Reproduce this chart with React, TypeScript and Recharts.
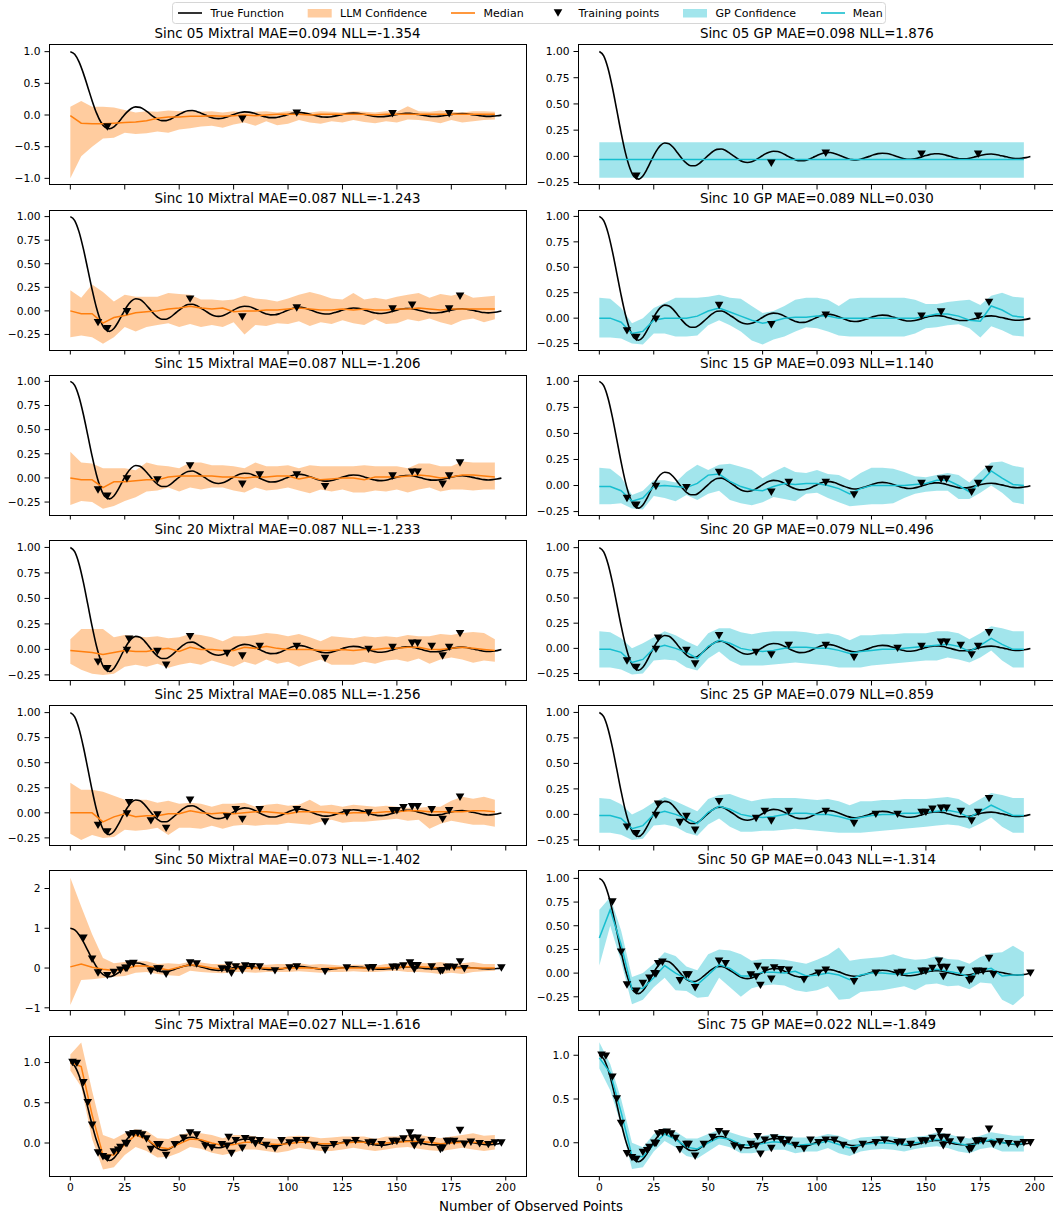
import React from "react";
import { ComposedChart, Area, Line, Scatter, XAxis, YAxis } from "recharts";

const FONT = "'DejaVu Sans', sans-serif";
const ORANGE = "#ff7f0e";
const CYAN = "#17becf";

const X_TICKS = [0, 25, 50, 75, 100, 125, 150, 175, 200];
const X_DOMAIN = [-9.8, 209.3];

// true sinc curve, sampled every 2 observed points
const TRUE_X = Array.from({ length: 100 }, (_, i) => i * 2);
const TRUE_Y = [
  1.0, 0.958, 0.838, 0.657, 0.443, 0.226, 0.033, -0.111, -0.195, -0.217,
  -0.187, -0.118, -0.033, 0.046, 0.103, 0.128, 0.12, 0.084, 0.032, -0.022,
  -0.065, -0.089, -0.089, -0.066, -0.029, 0.009, 0.044, 0.067, 0.071, 0.056,
  0.028, 0.0, -0.03, -0.051, -0.058, -0.051, -0.031, -0.005, 0.021, 0.04,
  0.049, 0.046, 0.031, 0.009, -0.014, -0.032, -0.042, -0.041, -0.03, -0.012,
  0.008, 0.026, 0.036, 0.037, 0.028, 0.013, -0.004, -0.02, -0.031, -0.033,
  -0.027, -0.014, 0.0, 0.015, 0.026, 0.03, 0.027, 0.017, 0.003, -0.011,
  -0.022, -0.028, -0.026, -0.018, -0.005, 0.008, 0.019, 0.025, 0.025, 0.018,
  0.007, -0.005, -0.016, -0.023, -0.023, -0.018, -0.008, 0.003, 0.013, 0.02,
  0.022, 0.018, 0.009, 0.0, -0.01, -0.018, -0.021, -0.018, -0.012, -0.002,
];

// x positions of the confidence bands / medians
const BAND_X = [
  0, 5, 10, 15, 20, 25, 30, 35, 40, 45, 50, 55, 60, 65, 70, 75, 80, 85, 90, 95,
  100, 105, 110, 115, 120, 125, 130, 135, 140, 145, 150, 155, 160, 165, 170, 175, 180, 185, 190, 195,
];

// Mixtral bands
const L05_HI = [0.13,0.22,0.13,0.13,0.12,0.08,0.04,0.06,0.05,0.07,0.06,0.07,0.05,0.06,0.04,0.06,0.04,0.05,0.06,0.04,0.06,0.05,0.04,0.06,0.05,0.04,0.06,0.05,0.04,0.06,0.05,0.14,0.06,0.05,0.07,0.05,0.04,0.06,0.06,0.05];
const L05_LO = [-1.0,-0.65,-0.5,-0.37,-0.36,-0.28,-0.3,-0.29,-0.26,-0.28,-0.23,-0.21,-0.18,-0.17,-0.2,-0.15,-0.12,-0.17,-0.1,-0.16,-0.14,-0.08,-0.12,-0.14,-0.1,-0.12,-0.08,-0.11,-0.13,-0.1,-0.12,-0.07,-0.08,-0.1,-0.13,-0.08,-0.12,-0.1,-0.08,-0.07];
const L05_MED = [-0.01,-0.13,-0.14,-0.14,-0.13,-0.12,-0.11,-0.09,-0.05,-0.03,-0.03,-0.02,-0.02,-0.01,-0.02,-0.01,0.0,-0.01,0.0,0.01,0.01,0.01,0.0,0.01,0.01,0.01,0.01,0.01,0.0,0.01,0.01,0.01,0.01,0.01,0.01,0.01,0.01,0.01,0.01,0.01];

const L10_HI = [0.22,0.14,0.28,0.2,0.1,0.17,0.15,0.15,0.15,0.19,0.18,0.17,0.12,0.12,0.11,0.12,0.16,0.13,0.12,0.1,0.13,0.17,0.2,0.17,0.13,0.12,0.19,0.12,0.14,0.12,0.15,0.17,0.19,0.14,0.18,0.16,0.19,0.14,0.15,0.16];
const L10_LO = [-0.28,-0.26,-0.28,-0.35,-0.28,-0.17,-0.22,-0.17,-0.15,-0.13,-0.17,-0.14,-0.17,-0.15,-0.17,-0.12,-0.25,-0.15,-0.16,-0.13,-0.14,-0.11,-0.16,-0.12,-0.14,-0.1,-0.13,-0.15,-0.09,-0.14,-0.13,-0.09,-0.11,-0.08,-0.12,-0.15,-0.1,-0.08,-0.12,-0.09];
const L10_MED = [0.0,-0.03,-0.03,-0.13,-0.07,-0.05,-0.02,-0.01,0.0,0.02,0.03,0.05,0.03,0.02,0.03,-0.01,0.0,0.0,0.01,0.01,0.02,0.03,0.02,0.01,0.01,0.02,0.01,0.02,0.01,0.01,0.02,0.02,0.03,0.02,0.01,0.02,0.02,0.02,0.02,0.02];

const L15_HI = [0.27,0.16,0.15,0.1,0.1,0.1,0.08,0.16,0.13,0.12,0.1,0.16,0.16,0.13,0.13,0.12,0.1,0.16,0.12,0.12,0.13,0.1,0.13,0.12,0.12,0.12,0.12,0.13,0.12,0.12,0.12,0.1,0.15,0.15,0.12,0.12,0.17,0.16,0.16,0.16];
const L15_LO = [-0.28,-0.24,-0.25,-0.32,-0.29,-0.24,-0.2,-0.14,-0.13,-0.1,-0.14,-0.1,-0.12,-0.1,-0.1,-0.13,-0.15,-0.1,-0.13,-0.12,-0.1,-0.13,-0.16,-0.12,-0.14,-0.12,-0.15,-0.15,-0.13,-0.14,-0.12,-0.15,-0.12,-0.1,-0.14,-0.12,-0.12,-0.13,-0.12,-0.12];
const L15_MED = [0.0,-0.02,-0.02,-0.1,-0.04,-0.04,-0.03,-0.02,-0.02,0.01,0.02,0.02,0.02,0.02,0.01,0.01,0.0,0.01,0.01,0.02,0.02,-0.01,0.01,-0.02,-0.01,0.0,0.0,-0.02,0.01,0.01,0.01,0.02,0.03,0.02,0.0,0.01,0.03,0.03,0.02,0.01];

const L20_HI = [0.1,0.2,0.2,0.2,0.12,0.14,0.13,0.12,0.13,0.11,0.12,0.15,0.14,0.12,0.08,0.13,0.13,0.14,0.16,0.15,0.13,0.15,0.12,0.08,0.13,0.12,0.11,0.13,0.12,0.13,0.12,0.14,0.13,0.13,0.15,0.14,0.16,0.17,0.16,0.1];
const L20_LO = [-0.14,-0.2,-0.24,-0.25,-0.24,-0.17,-0.15,-0.17,-0.14,-0.18,-0.15,-0.13,-0.15,-0.11,-0.14,-0.17,-0.12,-0.15,-0.1,-0.14,-0.12,-0.17,-0.13,-0.1,-0.15,-0.15,-0.15,-0.12,-0.14,-0.11,-0.1,-0.12,-0.09,-0.14,-0.1,-0.08,-0.1,-0.13,-0.11,-0.12];
const L20_MED = [-0.01,-0.02,-0.03,-0.05,-0.03,-0.01,-0.02,-0.02,0.0,0.01,-0.02,0.02,0.0,0.0,-0.01,-0.01,0.02,0.01,0.03,0.01,0.0,0.0,0.0,-0.01,-0.01,0.0,-0.01,0.0,0.0,0.01,0.01,0.02,0.02,0.0,0.0,0.01,0.02,0.01,0.0,-0.01];

const L25_HI = [0.3,0.23,0.23,0.21,0.17,0.13,0.13,0.13,0.1,0.12,0.09,0.1,0.09,0.06,0.09,0.09,0.1,0.06,0.08,0.09,0.07,0.08,0.13,0.07,0.08,0.06,0.08,0.07,0.06,0.07,0.06,0.05,0.05,0.06,0.06,0.12,0.16,0.14,0.16,0.13];
const L25_LO = [-0.21,-0.27,-0.22,-0.25,-0.24,-0.17,-0.18,-0.17,-0.15,-0.22,-0.15,-0.15,-0.16,-0.13,-0.16,-0.13,-0.12,-0.13,-0.12,-0.12,-0.1,-0.11,-0.12,-0.09,-0.07,-0.1,-0.09,-0.09,-0.08,-0.07,-0.06,-0.08,-0.07,-0.16,-0.11,-0.08,-0.1,-0.12,-0.12,-0.14];
const L25_MED = [0.0,0.0,0.0,-0.09,-0.04,-0.01,-0.04,-0.03,-0.03,-0.01,-0.01,0.02,0.0,-0.01,0.0,-0.01,0.0,0.01,0.01,0.0,-0.01,0.01,0.01,0.01,0.0,-0.01,0.0,0.0,0.0,0.01,0.01,0.02,0.02,0.01,0.01,0.01,0.01,0.02,0.02,0.01];

const L50_HI = [2.27,1.55,0.85,0.25,0.12,0.15,0.17,0.17,0.1,0.12,0.1,0.16,0.14,0.1,0.1,0.12,0.12,0.1,0.08,0.1,0.1,0.12,0.08,0.1,0.08,0.06,0.08,0.08,0.06,0.1,0.1,0.16,0.13,0.12,0.15,0.1,0.12,0.15,0.1,0.1];
const L50_LO = [-0.93,-0.3,-0.28,-0.25,-0.22,-0.2,-0.12,-0.1,-0.15,-0.18,-0.2,-0.07,-0.1,-0.12,-0.13,-0.1,-0.1,-0.12,-0.1,-0.1,-0.1,-0.08,-0.1,-0.12,-0.1,-0.1,-0.08,-0.1,-0.1,-0.08,-0.07,-0.1,-0.1,-0.12,-0.15,-0.12,-0.15,-0.1,-0.08,-0.07];
const L50_MED = [0.03,0.1,0.02,-0.03,-0.06,-0.03,0.05,0.05,0.0,-0.05,0.02,0.08,0.05,0.0,-0.03,-0.02,0.0,0.0,0.0,-0.02,0.0,0.01,0.0,-0.02,0.0,0.0,0.0,0.0,0.0,0.01,0.02,0.03,0.03,0.02,0.0,0.0,0.0,0.0,0.0,0.0];

const L75_HI = [1.1,1.25,0.65,0.1,0.05,0.12,0.17,0.15,0.06,0.05,0.1,0.13,0.12,0.1,0.06,0.1,0.1,0.08,0.06,0.05,0.08,0.09,0.08,0.06,0.07,0.08,0.08,0.08,0.05,0.08,0.08,0.1,0.1,0.08,0.06,0.08,0.1,0.12,0.09,0.1];
const L75_LO = [0.9,0.7,0.05,-0.33,-0.3,-0.15,-0.05,-0.1,-0.18,-0.17,-0.12,-0.05,-0.07,-0.12,-0.15,-0.12,-0.08,-0.08,-0.1,-0.12,-0.1,-0.06,-0.08,-0.1,-0.1,-0.08,-0.06,-0.08,-0.1,-0.08,-0.06,-0.05,-0.07,-0.09,-0.1,-0.08,-0.06,-0.08,-0.1,-0.08];
const L75_MED = [1.0,0.95,0.35,-0.15,-0.15,-0.02,0.1,0.05,-0.05,-0.07,-0.01,0.05,0.04,0.0,-0.03,-0.02,0.01,0.01,-0.01,-0.02,-0.01,0.01,0.01,-0.01,-0.01,0.0,0.01,0.01,-0.01,0.0,0.01,0.02,0.02,0.01,-0.01,0.0,0.01,0.01,0.0,0.0];

// GP bands
const G05_X = [0, 195];
const G05_HI = [0.135, 0.135];
const G05_LO = [-0.205, -0.205];
const G05_MEAN = [-0.03, -0.03];

const G10_HI = [0.2,0.19,0.1,-0.05,0.0,0.1,0.15,0.2,0.2,0.2,0.21,0.23,0.2,0.19,0.12,0.05,0.07,0.12,0.18,0.2,0.2,0.18,0.12,0.19,0.2,0.2,0.2,0.2,0.2,0.18,0.14,0.14,0.16,0.17,0.18,0.13,0.22,0.25,0.21,0.2];
const G10_LO = [-0.19,-0.19,-0.2,-0.25,-0.26,-0.15,-0.15,-0.18,-0.18,-0.17,-0.07,-0.02,-0.07,-0.13,-0.22,-0.26,-0.21,-0.18,-0.13,-0.09,-0.1,-0.13,-0.17,-0.18,-0.18,-0.18,-0.18,-0.18,-0.18,-0.15,-0.1,-0.09,-0.07,-0.06,-0.1,-0.19,-0.08,-0.12,-0.17,-0.18];
const G10_MEAN = [0.0,0.0,-0.04,-0.15,-0.13,-0.02,0.0,0.0,0.0,0.02,0.07,0.1,0.06,0.02,-0.02,-0.05,-0.03,0.0,0.01,0.01,0.02,0.02,0.0,0.0,0.0,0.0,0.0,0.0,0.0,0.0,0.02,0.04,0.04,0.02,-0.02,-0.03,0.12,0.08,0.02,0.01];

const G15_HI = [0.17,0.16,0.08,-0.09,-0.05,0.05,0.05,0.03,0.13,0.2,0.15,0.2,0.21,0.18,0.15,0.07,0.13,0.18,0.13,0.12,0.15,0.11,0.1,0.05,0.12,0.17,0.17,0.16,0.13,0.09,0.08,0.1,0.12,0.1,0.03,0.13,0.22,0.23,0.19,0.17];
const G15_LO = [-0.18,-0.18,-0.17,-0.22,-0.23,-0.1,-0.12,-0.15,-0.09,-0.14,-0.08,-0.05,-0.14,-0.17,-0.19,-0.16,-0.11,-0.13,-0.15,-0.08,-0.07,-0.12,-0.16,-0.2,-0.19,-0.18,-0.18,-0.17,-0.12,-0.08,-0.06,-0.05,-0.05,-0.13,-0.13,-0.07,0.0,-0.07,-0.16,-0.18];
const G15_MEAN = [-0.01,-0.01,-0.05,-0.15,-0.12,-0.01,0.0,-0.01,-0.02,0.02,0.1,0.11,0.04,-0.01,-0.04,-0.05,-0.01,0.02,0.01,0.02,0.02,0.0,-0.03,-0.08,-0.03,0.0,0.0,0.0,0.0,0.01,0.02,0.05,0.05,0.0,-0.06,0.03,0.14,0.07,0.01,0.0];

const G20_HI = [0.17,0.16,0.1,0.0,0.05,0.11,0.17,0.13,0.07,0.02,0.15,0.2,0.2,0.16,0.14,0.16,0.17,0.17,0.17,0.16,0.14,0.15,0.13,0.08,0.13,0.13,0.14,0.14,0.15,0.15,0.15,0.17,0.17,0.15,0.09,0.15,0.22,0.2,0.17,0.17];
const G20_LO = [-0.19,-0.19,-0.21,-0.26,-0.25,-0.12,-0.11,-0.12,-0.19,-0.22,-0.1,-0.03,-0.12,-0.17,-0.17,-0.17,-0.16,-0.15,-0.14,-0.15,-0.16,-0.17,-0.19,-0.19,-0.19,-0.17,-0.16,-0.15,-0.14,-0.13,-0.12,-0.12,-0.09,-0.11,-0.14,-0.09,-0.02,-0.12,-0.19,-0.19];
const G20_MEAN = [-0.01,-0.01,-0.04,-0.14,-0.11,0.0,0.03,0.0,-0.04,-0.1,0.02,0.08,0.05,0.0,-0.02,-0.03,-0.02,0.0,0.01,0.01,0.0,0.0,-0.02,-0.05,-0.03,-0.02,-0.01,-0.01,0.0,0.01,0.02,0.03,0.04,0.02,-0.03,0.03,0.1,0.04,-0.01,-0.01];

const G25_HI = [0.16,0.15,0.1,0.0,0.05,0.12,0.17,0.13,0.08,0.03,0.15,0.19,0.2,0.16,0.13,0.15,0.16,0.16,0.16,0.15,0.14,0.15,0.13,0.09,0.13,0.13,0.14,0.14,0.15,0.15,0.15,0.16,0.17,0.15,0.09,0.15,0.21,0.19,0.16,0.16];
const G25_LO = [-0.18,-0.18,-0.2,-0.25,-0.24,-0.11,-0.1,-0.12,-0.18,-0.21,-0.1,-0.04,-0.12,-0.17,-0.17,-0.16,-0.16,-0.15,-0.14,-0.15,-0.16,-0.17,-0.18,-0.18,-0.18,-0.17,-0.16,-0.15,-0.14,-0.13,-0.12,-0.11,-0.1,-0.11,-0.14,-0.09,-0.03,-0.12,-0.18,-0.18];
const G25_MEAN = [-0.01,-0.01,-0.04,-0.14,-0.11,0.0,0.03,0.0,-0.04,-0.09,0.02,0.08,0.05,0.0,-0.02,-0.03,-0.02,0.0,0.01,0.01,0.0,0.0,-0.02,-0.05,-0.03,-0.01,0.0,0.0,0.01,0.01,0.02,0.03,0.04,0.02,-0.03,0.03,0.09,0.04,-0.01,-0.01];

const G50_HI = [0.67,0.8,0.45,-0.04,0.0,0.1,0.22,0.18,0.07,0.03,0.2,0.25,0.24,0.2,0.13,0.15,0.15,0.14,0.12,0.1,0.14,0.19,0.27,0.13,0.15,0.16,0.17,0.2,0.16,0.14,0.15,0.18,0.15,0.14,0.1,0.17,0.21,0.22,0.29,0.22];
const G50_LO = [0.08,0.5,0.12,-0.33,-0.28,-0.15,-0.05,-0.18,-0.19,-0.26,-0.25,-0.05,-0.15,-0.25,-0.16,-0.13,-0.12,-0.13,-0.18,-0.2,-0.18,-0.14,-0.28,-0.27,-0.2,-0.19,-0.18,-0.16,-0.14,-0.18,-0.12,-0.11,-0.14,-0.13,-0.17,-0.1,-0.11,-0.28,-0.34,-0.24];
const G50_MEAN = [0.37,0.67,0.3,-0.17,-0.16,-0.05,0.08,0.0,-0.06,-0.12,-0.02,0.09,0.05,-0.03,-0.03,0.01,0.01,0.0,0.02,-0.03,-0.02,0.0,-0.02,-0.07,-0.02,0.0,0.0,-0.01,-0.01,0.01,0.02,0.04,0.02,0.0,-0.04,0.03,0.05,-0.03,-0.02,-0.02];

const G75_HI = [1.15,0.9,0.5,0.0,-0.05,0.1,0.17,0.13,0.05,0.05,0.1,0.15,0.12,0.08,0.05,0.08,0.1,0.08,0.06,0.06,0.07,0.1,0.08,0.03,0.06,0.07,0.08,0.07,0.05,0.07,0.08,0.12,0.1,0.07,0.05,0.08,0.12,0.1,0.08,0.08];
const G75_LO = [0.85,0.6,0.2,-0.3,-0.28,-0.1,0.02,-0.05,-0.15,-0.18,-0.1,-0.02,-0.05,-0.12,-0.12,-0.1,-0.08,-0.08,-0.12,-0.1,-0.1,-0.06,-0.12,-0.15,-0.1,-0.08,-0.07,-0.08,-0.1,-0.07,-0.05,-0.04,-0.06,-0.1,-0.12,-0.07,-0.05,-0.1,-0.1,-0.1];
const G75_MEAN = [0.97,0.8,0.35,-0.15,-0.16,-0.02,0.1,0.04,-0.05,-0.07,0.0,0.06,0.04,-0.02,-0.03,-0.01,0.01,0.0,-0.03,-0.02,-0.01,0.02,-0.02,-0.06,-0.02,-0.01,0.0,-0.01,-0.02,0.0,0.01,0.04,0.02,-0.01,-0.03,0.0,0.04,0.0,-0.01,-0.01];

// training points added at each context size
const PTS_05 = [[17, -0.19], [79, -0.065], [104, 0.03], [148, 0.02], [174, 0.02]];
const PTS_10 = [[12.7, -0.125], [26, -0.01], [55, 0.125], [157, 0.06], [179, 0.155]];
const PTS_15 = [[40, -0.02], [87, 0.03], [117, -0.09], [159.5, 0.06], [171, -0.065]];
const PTS_20 = [[27, 0.1], [44, -0.155], [72, -0.04], [137, 0.0], [166, 0.03]];
const PTS_25 = [[37, -0.08], [76, 0.03], [127, 0.0], [150, 0.02], [153, 0.05]];
const PTS_50 = [
  [6, 0.75], [10, 0.22], [20, -0.11], [23, -0.055], [25.3, -0.005], [29, 0.115], [41, -0.02], [58, 0.1],
  [69.6, -0.02], [72.7, 0.07], [74, -0.13], [80.3, 0.055], [83.4, 0.035], [94, -0.07], [100.7, 0.0],
  [139, 0.007], [156, 0.125], [158, -0.035], [170, -0.08], [173, 0.018], [176.3, 0.018], [181, -0.018], [198, 0.0],
];
const PTS_75 = [
  [1, 1.0], [3, 0.99], [8, 0.5], [15, -0.17], [22, -0.09], [31, 0.12], [33, 0.1], [35, 0.05], [48, -0.02],
  [52, 0.06], [62, -0.04], [65, -0.06], [85, -0.01], [90, -0.03], [97, 0.03], [108, 0.03], [112, -0.03],
  [121, -0.02], [131, 0.03], [143, -0.02], [161, 0.01], [184, 0.01], [188, -0.01], [192, -0.02], [195, 0.0],
];

const S05 = PTS_05;
const S10 = [...S05, ...PTS_10];
const S15 = [...S10, ...PTS_15];
const S20 = [...S15, ...PTS_20];
const S25 = [...S20, ...PTS_25];
const S50 = [...S25, ...PTS_50];
const S75 = [...S50, ...PTS_75];

const PLOT_W = 477;
const PLOT_H = 140;
const YAX_W = 48;
const ROW_TOP = [44.9, 210.1, 375.3, 540.5, 705.7, 870.9, 1036.1];
const COL_LEFT = [49, 578.3];

const T2 = [-0.25, 0, 0.25, 0.5, 0.75, 1];

const PANELS = [
  { row: 0, col: 0, title: "Sinc 05 Mixtral MAE=0.094 NLL=-1.354", yd: [-1.105, 1.105], yt: [-1, -0.5, 0, 0.5, 1], dec: 1, bx: BAND_X, lo: L05_LO, hi: L05_HI, mid: L05_MED, pts: S05, gp: false },
  { row: 0, col: 1, title: "Sinc 05 GP MAE=0.098 NLL=1.876", yd: [-0.273, 1.062], yt: T2, dec: 2, bx: G05_X, lo: G05_LO, hi: G05_HI, mid: G05_MEAN, pts: S05, gp: true },
  { row: 1, col: 0, title: "Sinc 10 Mixtral MAE=0.087 NLL=-1.243", yd: [-0.415, 1.07], yt: T2, dec: 2, bx: BAND_X, lo: L10_LO, hi: L10_HI, mid: L10_MED, pts: S10, gp: false },
  { row: 1, col: 1, title: "Sinc 10 GP MAE=0.089 NLL=0.030", yd: [-0.313, 1.063], yt: T2, dec: 2, bx: BAND_X, lo: G10_LO, hi: G10_HI, mid: G10_MEAN, pts: S10, gp: true },
  { row: 2, col: 0, title: "Sinc 15 Mixtral MAE=0.087 NLL=-1.206", yd: [-0.384, 1.066], yt: T2, dec: 2, bx: BAND_X, lo: L15_LO, hi: L15_HI, mid: L15_MED, pts: S15, gp: false },
  { row: 2, col: 1, title: "Sinc 15 GP MAE=0.093 NLL=1.140", yd: [-0.283, 1.061], yt: T2, dec: 2, bx: BAND_X, lo: G15_LO, hi: G15_HI, mid: G15_MEAN, pts: S15, gp: true },
  { row: 3, col: 0, title: "Sinc 20 Mixtral MAE=0.087 NLL=-1.233", yd: [-0.31, 1.063], yt: T2, dec: 2, bx: BAND_X, lo: L20_LO, hi: L20_HI, mid: L20_MED, pts: S20, gp: false },
  { row: 3, col: 1, title: "Sinc 20 GP MAE=0.079 NLL=0.496", yd: [-0.324, 1.066], yt: T2, dec: 2, bx: BAND_X, lo: G20_LO, hi: G20_HI, mid: G20_MEAN, pts: S20, gp: true },
  { row: 4, col: 0, title: "Sinc 25 Mixtral MAE=0.085 NLL=-1.256", yd: [-0.331, 1.066], yt: T2, dec: 2, bx: BAND_X, lo: L25_LO, hi: L25_HI, mid: L25_MED, pts: S25, gp: false },
  { row: 4, col: 1, title: "Sinc 25 GP MAE=0.079 NLL=0.859", yd: [-0.31, 1.063], yt: T2, dec: 2, bx: BAND_X, lo: G25_LO, hi: G25_HI, mid: G25_MEAN, pts: S25, gp: true },
  { row: 5, col: 0, title: "Sinc 50 Mixtral MAE=0.073 NLL=-1.402", yd: [-1.08, 2.44], yt: [-1, 0, 1, 2], dec: 0, bx: BAND_X, lo: L50_LO, hi: L50_HI, mid: L50_MED, pts: S50, gp: false },
  { row: 5, col: 1, title: "Sinc 50 GP MAE=0.043 NLL=-1.314", yd: [-0.4, 1.078], yt: T2, dec: 2, bx: BAND_X, lo: G50_LO, hi: G50_HI, mid: G50_MEAN, pts: S50, gp: true },
  { row: 6, col: 0, title: "Sinc 75 Mixtral MAE=0.027 NLL=-1.616", yd: [-0.41, 1.33], yt: [0, 0.5, 1], dec: 1, bx: BAND_X, lo: L75_LO, hi: L75_HI, mid: L75_MED, pts: S75, gp: false },
  { row: 6, col: 1, title: "Sinc 75 GP MAE=0.022 NLL=-1.849", yd: [-0.38, 1.22], yt: [0, 0.5, 1], dec: 1, bx: BAND_X, lo: G75_LO, hi: G75_HI, mid: G75_MEAN, pts: S75, gp: true },
];

const Tri = (props: any) => {
  const { cx, cy } = props;
  if (cx == null || cy == null) return <g />;
  return <path d={`M${cx - 4.3},${cy - 3.7}L${cx + 4.3},${cy - 3.7}L${cx},${cy + 3.7}Z`} fill="#000" />;
};

const tickStyle = { fontSize: 10.7, fill: "#000", fontFamily: FONT };

const Panel = ({ p }: { p: any }) => {
  const left = COL_LEFT[p.col];
  const top = ROW_TOP[p.row];
  const bottom = p.row === 6;
  const xh = bottom ? 24 : 6;
  const bandData = p.bx.map((x: number, i: number) => ({ x, range: [p.lo[i], p.hi[i]], mid: p.mid[i] }));
  const trueData = TRUE_X.map((x, i) => ({ x, y: TRUE_Y[i] }));
  const pts = p.pts.map(([x, y]: number[]) => ({ x, y }));
  const color = p.gp ? CYAN : ORANGE;
  const fmt = (v: number) => v.toFixed(p.dec).replace("-", "\u2212");
  return (
    <>
      <div
        style={{
          position: "absolute", left, top: top - 19, width: PLOT_W, textAlign: "center",
          fontSize: 13.4, lineHeight: "15px", fontFamily: FONT, color: "#000", whiteSpace: "nowrap",
        }}
      >
        {p.title}
      </div>
      <div style={{ position: "absolute", left: left - YAX_W, top }}>
        <ComposedChart width={YAX_W + PLOT_W} height={PLOT_H + xh} margin={{ top: 0, right: 0, bottom: 0, left: 0 }}>
          <XAxis
            dataKey="x" type="number" domain={X_DOMAIN} ticks={X_TICKS} allowDataOverflow interval={0}
            axisLine={false} tickLine={{ stroke: "#000" }} tickSize={4.5} tickMargin={3} height={xh}
            tick={tickStyle} tickFormatter={bottom ? (v: number) => String(v) : () => ""}
          />
          <YAxis
            type="number" domain={p.yd} ticks={p.yt} allowDataOverflow interval={0} width={YAX_W}
            axisLine={false} tickLine={{ stroke: "#000" }} tickSize={4.5} tickMargin={4}
            tick={tickStyle} tickFormatter={fmt}
          />
          <Area
            data={bandData} dataKey="range" type="linear" stroke="none" fill={color} fillOpacity={0.4}
            isAnimationActive={false} dot={false} activeDot={false}
          />
          <Line
            data={trueData} dataKey="y" type="monotone" stroke="#000" strokeWidth={1.6}
            dot={false} activeDot={false} isAnimationActive={false}
          />
          <Line
            data={bandData} dataKey="mid" type="linear" stroke={color} strokeWidth={1.5}
            dot={false} activeDot={false} isAnimationActive={false}
          />
          <Scatter data={pts} dataKey="y" shape={Tri} isAnimationActive={false} />
        </ComposedChart>
      </div>
      <div
        style={{
          position: "absolute", left: left - 0.5, top: top - 0.5, width: PLOT_W + 1, height: PLOT_H + 1,
          border: "1px solid #000", boxSizing: "border-box", pointerEvents: "none",
        }}
      />
    </>
  );
};

const legendText = { fontSize: 11, fontFamily: FONT, fill: "#000" };

const LegendBar = () => (
  <svg width={1053} height={28} style={{ position: "absolute", left: 0, top: 0 }}>
    <rect x={172.5} y={2.5} width={713} height={21} rx={3} fill="#fff" fillOpacity={0.8} stroke="#d6d6d6" />
    <line x1={178} x2={202} y1={13} y2={13} stroke="#000" strokeWidth={1.6} />
    <text x={210.4} y={13} dominantBaseline="central" {...legendText}>True Function</text>
    <rect x={307.7} y={9} width={24} height={8.5} fill={ORANGE} fillOpacity={0.4} />
    <text x={340} y={13} dominantBaseline="central" {...legendText}>LLM Confidence</text>
    <line x1={451} x2={475} y1={13} y2={13} stroke={ORANGE} strokeWidth={1.6} />
    <text x={483.6} y={13} dominantBaseline="central" {...legendText}>Median</text>
    <path d="M553.7,9.3L562.3,9.3L558,16.7Z" fill="#000" />
    <text x={578.6} y={13} dominantBaseline="central" {...legendText}>Training points</text>
    <rect x={683} y={9} width={24} height={8.5} fill={CYAN} fillOpacity={0.4} />
    <text x={715.5} y={13} dominantBaseline="central" {...legendText}>GP Confidence</text>
    <line x1={821} x2={845} y1={13} y2={13} stroke={CYAN} strokeWidth={1.6} />
    <text x={852.7} y={13} dominantBaseline="central" {...legendText}>Mean</text>
  </svg>
);

const App = () => (
  <div
    style={{
      position: "absolute", left: 0, top: 0, width: 1053, height: 1216, overflow: "hidden",
      background: "#fff", fontFamily: FONT,
    }}
  >
    <LegendBar />
    {PANELS.map((p) => (
      <Panel key={p.title} p={p} />
    ))}
    <div
      style={{
        position: "absolute", left: 331, top: 1199, width: 400, textAlign: "center",
        fontSize: 13.4, lineHeight: "15px", fontFamily: FONT, color: "#000",
      }}
    >
      Number of Observed Points
    </div>
  </div>
);

export default App;
